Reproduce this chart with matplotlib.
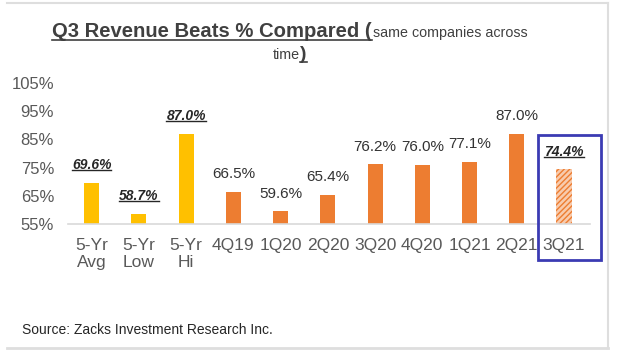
import matplotlib
matplotlib.use("Agg")
import matplotlib.pyplot as plt
from matplotlib.patches import Rectangle
from matplotlib.lines import Line2D
import numpy as np

plt.rcParams['font.family'] = ['Liberation Sans', 'DejaVu Sans']
plt.rcParams['hatch.linewidth'] = 1.0

# data
categories = ['5-Yr\nAvg', '5-Yr\nLow', '5-Yr\nHi', '4Q19', '1Q20', '2Q20',
              '3Q20', '4Q20', '1Q21', '2Q21', '3Q21']
values = [69.6, 58.7, 87.0, 66.5, 59.6, 65.4, 76.2, 76.0, 77.1, 87.0, 74.4]
highlight = [True, True, True, False, False, False, False, False, False, False, True]
kinds = ['hist', 'hist', 'hist', 'q', 'q', 'q', 'q', 'q', 'q', 'q', 'current']
y_ticks = [55, 65, 75, 85, 95, 105]

W, H = 620, 352
fig = plt.figure(figsize=(W / 100, H / 100), dpi=100)


def fx(px):
    return px / W


def fy(py):
    return 1 - py / H


ax = fig.add_axes([fx(68), fy(224), fx(590) - fx(68), fy(83) - fy(224)])

x = np.arange(len(categories))
bar_colors = {'hist': '#ffc000', 'q': '#ed7d31', 'current': '#f8cbad'}
for xi, v, k in zip(x, values, kinds):
    if k == 'current':
        ax.bar(xi, v - 55, bottom=55, width=0.32, color='#f8cbad',
               edgecolor='#ed7d31', hatch='//////', linewidth=0)
    else:
        ax.bar(xi, v - 55, bottom=55, width=0.32, color=bar_colors[k], linewidth=0)

ax.set_xlim(-0.5, 10.55)
ax.set_ylim(55, 105)
ax.set_yticks(y_ticks)
ax.set_yticklabels([f'{t}%' for t in y_ticks])
ax.set_xticks(x)
ax.set_xticklabels(categories, linespacing=1.15)
for s in ['top', 'right', 'left']:
    ax.spines[s].set_visible(False)
ax.spines['bottom'].set_color('#d9d9d9')
ax.spines['bottom'].set_linewidth(1.2)
ax.tick_params(axis='y', length=0, pad=10, labelsize=12, labelcolor='#595959')
ax.tick_params(axis='x', length=0, pad=10, labelsize=12.5, labelcolor='#595959')

# value labels
labels = []
for xi, v, hl in zip(x, values, highlight):
    if hl:
        t = ax.annotate(f'{v:.1f}%', (xi, v), xytext=(0, 12.5), textcoords='offset points',
                        ha='center', va='center', fontsize=10, fontweight='bold',
                        fontstyle='italic', color='#262626')
        labels.append(t)
    else:
        ax.annotate(f'{v:.1f}%', (xi, v), xytext=(0, 12.5), textcoords='offset points',
                    ha='center', va='center', fontsize=11, color='#333333')

# title pieces
t1 = fig.text(fx(52), fy(37), 'Q3 Revenue Beats % Compared (', fontsize=14.6,
              fontweight='bold', color='#404040', va='baseline', ha='left')
fig.canvas.draw()
r = fig.canvas.get_renderer()
bb = t1.get_window_extent(r)
fig.text(bb.x1 / W + 0.002, fy(37), 'same companies across', fontsize=10.3,
         color='#404040', va='baseline', ha='left')
t3 = fig.text(fx(273), fy(59), 'time', fontsize=10.3, color='#404040',
              va='baseline', ha='left')
fig.canvas.draw()
bb3 = t3.get_window_extent(r)
t4 = fig.text(bb3.x1 / W, fy(59), ')', fontsize=14, fontweight='bold',
              color='#404040', va='baseline', ha='left')

fig.text(fx(22), fy(334), 'Source: Zacks Investment Research Inc.', fontsize=10,
         color='#262626', va='baseline', ha='left')

fig.canvas.draw()


def underline(t, offset=2.5, color='#404040', lw=1.2):
    b = t.get_window_extent(r)
    yline = (b.y0 + offset) / H
    fig.add_artist(Line2D([b.x0 / W, b.x1 / W], [yline, yline],
                          color=color, linewidth=lw))


underline(t1, offset=1.5)
underline(t4, offset=1.5)
for t in labels:
    underline(t, offset=2, color='#262626', lw=1.0)

# blue box around current quarter
fig.add_artist(Rectangle((fx(538), fy(260)), fx(601) - fx(538), fy(135) - fy(260),
                         fill=False, edgecolor='#3b3bb3', linewidth=2))

# frame lines
frame = '#dedede'
fig.add_artist(Line2D([fx(7), fx(608)], [fy(3), fy(3)], color=frame, linewidth=1.5))
fig.add_artist(Line2D([fx(7), fx(608)], [fy(348), fy(348)], color=frame, linewidth=2))
fig.add_artist(Line2D([fx(608), fx(608)], [fy(3), fy(348)], color=frame, linewidth=1.5))

fig.savefig('out.png', dpi=100)
